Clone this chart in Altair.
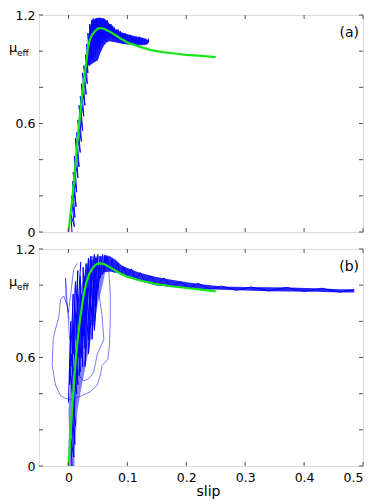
import altair as alt
import pandas as pd

W = 324
H = 217

xticks = [0, 0.1, 0.2, 0.3, 0.4, 0.5]
yticks = [0, 0.2, 0.4, 0.6, 0.8, 1.0, 1.2]
ylabels = [0, 0.6, 1.2]

# ---- panel (a) ----
a_fit_x = [0, 0.007, 0.012, 0.018, 0.024, 0.030, 0.033, 0.036, 0.040, 0.045, 0.050, 0.055, 0.060,
           0.070, 0.080, 0.090, 0.100, 0.120, 0.140, 0.160, 0.180, 0.200, 0.220, 0.250]
a_fit_y = [0, 0.20, 0.38, 0.60, 0.78, 0.93, 1.02, 1.06, 1.09, 1.11, 1.125, 1.128, 1.124,
           1.108, 1.088, 1.067, 1.048, 1.025, 1.006, 0.995, 0.987, 0.980, 0.975, 0.967]

a_rise_x = [0.006, 0.004, 0.010, 0.005, 0.011, 0.007, 0.013, 0.008, 0.014, 0.010, 0.016, 0.012, 0.018,
            0.014, 0.020, 0.016, 0.022, 0.018, 0.024, 0.020, 0.026, 0.022, 0.028, 0.024, 0.030, 0.026,
            0.032, 0.029, 0.033, 0.031, 0.035, 0.033, 0.037, 0.036, 0.040, 0.039, 0.043, 0.042, 0.046,
            0.045, 0.049, 0.048, 0.052, 0.051, 0.055, 0.054, 0.058, 0.057, 0.061, 0.060, 0.064, 0.063,
            0.067, 0.066, 0.070, 0.069, 0.073, 0.072, 0.076, 0.075, 0.079, 0.078, 0.082, 0.081, 0.085,
            0.084, 0.088, 0.088, 0.092, 0.092, 0.096, 0.096, 0.100, 0.100, 0.104, 0.105, 0.109, 0.110,
            0.114, 0.115, 0.119, 0.120, 0.124, 0.125, 0.129, 0.130, 0.134, 0.136]
a_rise_y = [0.00, 0.10, 0.03, 0.20, 0.08, 0.28, 0.14, 0.33, 0.22, 0.42, 0.30, 0.52, 0.36,
            0.55, 0.44, 0.62, 0.50, 0.70, 0.56, 0.75, 0.64, 0.82, 0.70, 0.88, 0.76, 0.92,
            0.82, 0.98, 0.88, 1.04, 0.92, 1.10, 0.95, 1.15, 0.96, 1.17, 0.97, 1.18, 0.98,
            1.17, 1.00, 1.18, 1.02, 1.17, 1.04, 1.18, 1.05, 1.17, 1.06, 1.18, 1.07, 1.16,
            1.07, 1.17, 1.08, 1.15, 1.08, 1.15, 1.07, 1.14, 1.07, 1.13, 1.06, 1.12, 1.06,
            1.12, 1.06, 1.11, 1.05, 1.10, 1.05, 1.10, 1.04, 1.09, 1.04, 1.09, 1.04, 1.08,
            1.04, 1.08, 1.04, 1.08, 1.04, 1.07, 1.05, 1.07, 1.05, 1.07]

a_band_x = [0.032, 0.036, 0.040, 0.045, 0.050, 0.054, 0.060, 0.065, 0.070, 0.079, 0.093, 0.105,
            0.116, 0.125, 0.133, 0.137]
a_band_lo = [0.93, 0.92, 0.93, 0.94, 0.95, 0.99, 1.03, 1.05, 1.055, 1.05, 1.04, 1.035,
             1.033, 1.033, 1.035, 1.05]
a_band_hi = [1.00, 1.13, 1.17, 1.18, 1.185, 1.185, 1.18, 1.17, 1.15, 1.12, 1.10, 1.09,
             1.08, 1.075, 1.065, 1.06]

# ---- panel (b) ----
b_fit_x = [0, 0.003, 0.006, 0.009, 0.0127, 0.016, 0.020, 0.025, 0.030, 0.035, 0.040, 0.045, 0.050,
           0.060, 0.070, 0.080, 0.090, 0.100, 0.120, 0.147, 0.175, 0.204, 0.225, 0.250]
b_fit_y = [0, 0.15, 0.30, 0.45, 0.60, 0.71, 0.82, 0.93, 1.01, 1.06, 1.09, 1.11, 1.12,
           1.118, 1.10, 1.08, 1.062, 1.047, 1.027, 1.008, 0.994, 0.983, 0.975, 0.966]

b_core_x = [0.006, 0.004, 0.009, 0.006, 0.011, 0.008, 0.012, 0.002, 0.010, 0.005, 0.014, 0.008,
            0.016, 0.012, 0.020, 0.015, 0.018, 0.020, 0.024, 0.025, 0.028, 0.030, 0.026, 0.034,
            0.030, 0.038, 0.034, 0.040, 0.036, 0.044, 0.040, 0.046, 0.042, 0.050, 0.046, 0.054,
            0.050, 0.058, 0.054, 0.062, 0.058, 0.066]
b_core_y = [0.00, 0.15, 0.05, 0.28, 0.12, 0.35, 0.22, 0.55, 0.34, 0.62, 0.40, 0.75,
            0.45, 0.85, 0.52, 0.95, 0.60, 1.05, 0.55, 1.10, 0.65, 1.12, 0.72, 1.15,
            0.80, 1.16, 0.70, 1.14, 0.85, 1.17, 0.78, 1.15, 0.92, 1.17, 0.88, 1.16,
            0.98, 1.17, 1.04, 1.16, 1.06, 1.15]

b_core2_x = [0.010, 0.016, 0.012, 0.022, 0.018, 0.028, 0.022, 0.034, 0.028, 0.040, 0.034, 0.044,
             0.040, 0.048, 0.044, 0.052]
b_core2_y = [0.30, 0.75, 0.45, 0.95, 0.50, 1.05, 0.60, 1.10, 0.55, 1.12, 0.62, 1.08,
             0.70, 1.15, 0.75, 1.12]
b_core3_x = [0.000, 0.004, 0.002, 0.008, 0.006, 0.012, 0.008, 0.016, 0.013, 0.021]
b_core3_y = [0.35, 0.80, 0.45, 0.95, 0.55, 1.02, 0.62, 1.08, 0.70, 1.13]

b_coreband_y = [0.0, 0.1, 0.2, 0.3, 0.4, 0.5, 0.6, 0.7, 0.8, 0.9, 1.0, 1.1, 1.16]
b_coreband_lo = [0.002, 0.000, 0.001, 0.000, 0.002, 0.004, 0.006, 0.008, 0.012, 0.016, 0.022, 0.030, 0.038]
b_coreband_hi = [0.010, 0.011, 0.013, 0.015, 0.020, 0.026, 0.032, 0.038, 0.045, 0.050, 0.058, 0.064, 0.066]

b_tail_x = [0.060, 0.070, 0.080, 0.090, 0.100, 0.120, 0.147, 0.175, 0.204, 0.230, 0.260, 0.300,
            0.340, 0.374, 0.420, 0.460, 0.485]
b_tail_lo = [1.07, 1.075, 1.07, 1.06, 1.05, 1.025, 1.00, 0.99, 0.985, 0.978, 0.974, 0.97,
             0.967, 0.965, 0.963, 0.96, 0.96]
b_tail_hi = [1.17, 1.16, 1.14, 1.11, 1.095, 1.07, 1.047, 1.03, 1.015, 1.003, 0.993, 0.99,
             0.988, 0.987, 0.983, 0.978, 0.978]

b_tailzig_x = [0.066, 0.070, 0.074, 0.078, 0.083, 0.088, 0.094, 0.100, 0.107, 0.114, 0.122, 0.130,
               0.140, 0.150, 0.162, 0.175, 0.190, 0.205, 0.220, 0.240, 0.260, 0.285, 0.310, 0.340,
               0.370, 0.400, 0.430, 0.460, 0.485]
b_tailzig_y = [1.15, 1.08, 1.14, 1.07, 1.12, 1.06, 1.10, 1.05, 1.09, 1.03, 1.07, 1.02,
               1.05, 1.00, 1.04, 0.99, 1.02, 0.985, 1.01, 0.978, 0.995, 0.972, 0.99, 0.968,
               0.988, 0.965, 0.983, 0.962, 0.975]

b_loop1_x = [0.012, -0.005, -0.0135, -0.022, -0.0276, -0.026, -0.022, -0.016, -0.0135, -0.008, -0.002, 0.001]
b_loop1_y = [0.36, 0.374, 0.39, 0.447, 0.556, 0.70, 0.756, 0.83, 0.92, 0.94, 0.89, 0.81]
b_loop2_x = [0.060, 0.068, 0.071, 0.071, 0.0695, 0.067, 0.057, 0.054, 0.0486, 0.037, 0.023, 0.012]
b_loop2_y = [1.15, 1.10, 0.956, 0.81, 0.665, 0.59, 0.556, 0.50, 0.447, 0.41, 0.39, 0.374]
b_loop3_x = [0.050, 0.057, 0.060, 0.049, 0.043, 0.0345, 0.026, 0.018]
b_loop3_y = [1.00, 0.83, 0.70, 0.62, 0.52, 0.483, 0.47, 0.50]
b_loop4_x = [0.002, -0.005, -0.004, 0.000, 0.009, 0.015]
b_loop4_y = [0.70, 1.04, 0.91, 0.85, 1.09, 1.12]

BLUE = "#0000ff"
GREEN = "#19e619"
FRAME = "#505050"
FONT = "DejaVu Sans"

xs = alt.Scale(domain=[-0.05, 0.5], nice=False, zero=False)
ys = alt.Scale(domain=[0, 1.2], nice=False, zero=False)


def traces_df(traces):
    rows = []
    for name, xv, yv in traces:
        for i, (a, b) in enumerate(zip(xv, yv)):
            rows.append({"slip": a, "mu": b, "trace": name, "i": i})
    return pd.DataFrame(rows)


def panel(tag, fit_x, fit_y, lines, thin_lines, xbands, ybands, show_x):
    if show_x:
        xa = alt.Axis(values=xticks, format=".1~f", ticks=False, domain=False, grid=False,
                      title="slip", titleFontSize=14, titleFontWeight="normal",
                      titlePadding=1, labelPadding=5, titleX=169,
                      labelFont=FONT, labelFontSize=12.5, titleFont=FONT,
                      labelColor="black", titleColor="black")
    else:
        xa = None
    ya = alt.Axis(values=ylabels, format=".1~f", ticks=False, tickSize=0, domain=False, grid=False,
                  title=None, labelPadding=4, labelFont=FONT, labelFontSize=12.5,
                  labelColor="black")

    def X(f):
        return alt.X(f, type="quantitative", scale=xs, axis=xa)

    def Y(f):
        return alt.Y(f, type="quantitative", scale=ys, axis=ya)

    layers = []
    for bx, blo, bhi, op in xbands:
        d = pd.DataFrame({"slip": bx, "lo": blo, "hi": bhi})
        layers.append(alt.Chart(d).mark_area(color=BLUE, opacity=op, strokeWidth=0).encode(
            x=X("slip"), y=Y("lo"), y2="hi"))
    for by, blo, bhi, op in ybands:
        d = pd.DataFrame({"mu": by, "lo": blo, "hi": bhi})
        layers.append(alt.Chart(d).mark_area(color=BLUE, opacity=op, orient="horizontal",
                                             strokeWidth=0).encode(
            y=Y("mu"), x=X("lo"), x2="hi"))
    if thin_lines:
        layers.append(alt.Chart(traces_df(thin_lines)).mark_line(
            color=BLUE, strokeWidth=0.7, opacity=0.75, clip=True).encode(
            x=X("slip"), y=Y("mu"), detail="trace:N", order="i:Q"))
    layers.append(alt.Chart(traces_df(lines)).mark_line(
        color=BLUE, strokeWidth=1.0, clip=True).encode(
        x=X("slip"), y=Y("mu"), detail="trace:N", order="i:Q"))
    fit = pd.DataFrame({"slip": fit_x, "mu": fit_y})
    layers.append(alt.Chart(fit).mark_line(color=GREEN, strokeWidth=2.2).encode(
        x=X("slip"), y=Y("mu")))

    # inward tick marks on all four sides
    xt = pd.DataFrame({"v": xticks})
    yt = pd.DataFrame({"v": yticks})
    layers.append(alt.Chart(xt).mark_rule(color=FRAME, strokeWidth=1).encode(
        x=X("v"), y=alt.value(H), y2=alt.value(H - 4)))
    layers.append(alt.Chart(xt).mark_rule(color=FRAME, strokeWidth=1).encode(
        x=X("v"), y=alt.value(0), y2=alt.value(4)))
    layers.append(alt.Chart(yt).mark_rule(color=FRAME, strokeWidth=1).encode(
        y=Y("v"), x=alt.value(0), x2=alt.value(4)))
    layers.append(alt.Chart(yt).mark_rule(color=FRAME, strokeWidth=1).encode(
        y=Y("v"), x=alt.value(W), x2=alt.value(W - 4)))

    # panel tag and y label
    layers.append(alt.Chart(pd.DataFrame({"t": [tag]})).mark_text(
        align="right", baseline="alphabetic", fontSize=14, font=FONT, color="black").encode(
        x=alt.value(W - 4), y=alt.value(21.5), text="t:N"))
    layers.append(alt.Chart(pd.DataFrame({"t": ["μ"]})).mark_text(
        align="left", baseline="alphabetic", fontSize=13, font=FONT, color="black").encode(
        x=alt.value(-30), y=alt.value(37), text="t:N"))
    layers.append(alt.Chart(pd.DataFrame({"t": ["eff"]})).mark_text(
        align="left", baseline="alphabetic", fontSize=9, font=FONT, color="black").encode(
        x=alt.value(-22), y=alt.value(40.5), text="t:N"))

    return alt.layer(*layers).properties(width=W, height=H)


pa = panel("(a)", a_fit_x, a_fit_y,
           [("rise", a_rise_x, a_rise_y)],
           None,
           [(a_band_x, a_band_lo, a_band_hi, 0.9)],
           [],
           False)

pb = panel("(b)", b_fit_x, b_fit_y,
           [("core", b_core_x, b_core_y), ("core2", b_core2_x, b_core2_y),
            ("core3", b_core3_x, b_core3_y), ("tail", b_tailzig_x, b_tailzig_y)],
           [("l1", b_loop1_x, b_loop1_y), ("l2", b_loop2_x, b_loop2_y),
            ("l3", b_loop3_x, b_loop3_y), ("l4", b_loop4_x, b_loop4_y)],
           [(b_tail_x, b_tail_lo, b_tail_hi, 0.85)],
           [(b_coreband_y, b_coreband_lo, b_coreband_hi, 0.5)],
           True)

chart = alt.vconcat(pa, pb, spacing=3).properties(
    padding={"left": 0, "top": 0, "right": 2, "bottom": 0}
).configure_view(stroke=FRAME, strokeWidth=1.4).configure(background="white")

chart.save("out.html", embed_options={"renderer": "svg", "actions": False})
